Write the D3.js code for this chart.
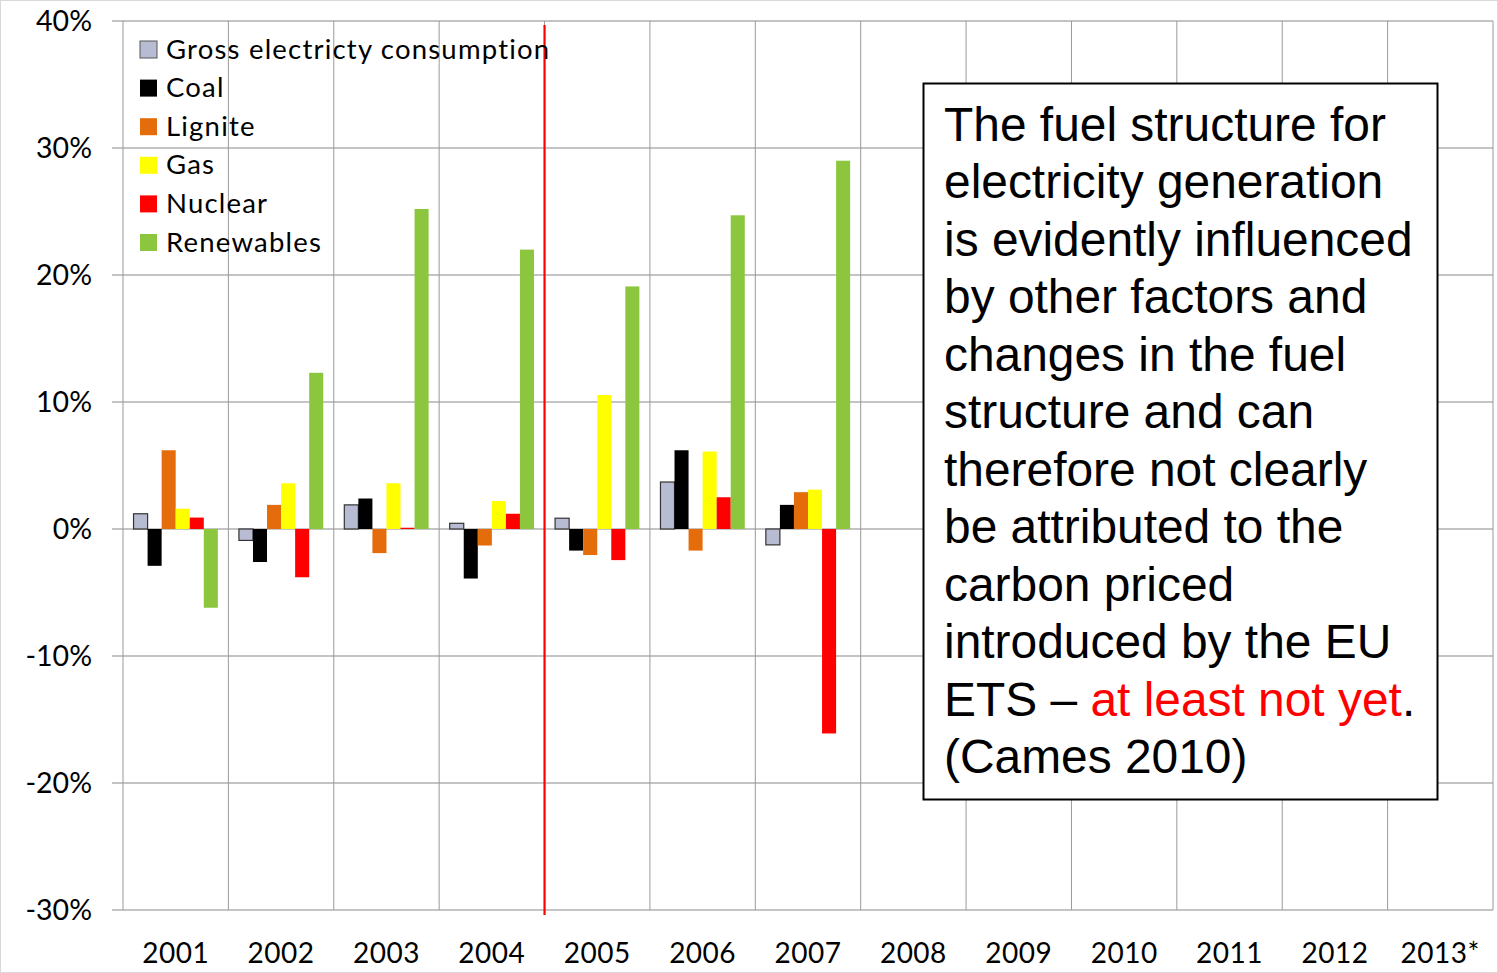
<!DOCTYPE html>
<html>
<head>
<meta charset="utf-8">
<script src="https://cdn.jsdelivr.net/npm/d3@7"></script>
<style>
  body { margin: 0; background: #fff; }
  svg { display: block; }
</style>
</head>
<body>
<svg id="chart" width="1498" height="973"></svg>
<script>
// years on the x axis (data only up to 2007)
const years = ["2001", "2002", "2003", "2004", "2005", "2006", "2007",
  "2008", "2009", "2010", "2011", "2012", "2013*"];
const seriesNames = ["Gross electricty consumption", "Coal", "Lignite", "Gas", "Nuclear", "Renewables"];
const seriesColors = ["#b8bcd2", "#000000", "#e46c0a", "#ffff00", "#ff0000", "#8cc63f"];

// change in % per year, 2001..2007
const gross      = [1.2, -0.9, 1.9, 0.45, 0.85, 3.7, -1.25];
const coal       = [-2.9, -2.6, 2.4, -3.9, -1.7, 6.2, 1.9];
const lignite    = [6.2, 1.9, -1.9, -1.3, -2.05, -1.7, 2.9];
const gas        = [1.6, 3.6, 3.6, 2.2, 10.55, 6.1, 3.1];
const nuclear    = [0.9, -3.8, 0.1, 1.2, -2.45, 2.5, -16.1];
const renewables = [-6.2, 12.3, 25.2, 22.0, 19.1, 24.7, 29.0];
const allSeries = [gross, coal, lignite, gas, nuclear, renewables];

const yTicks = [40, 30, 20, 10, 0, -10, -20, -30];

const noteLines = [
  "The fuel structure for",
  "electricity generation",
  "is evidently influenced",
  "by other factors and",
  "changes in the fuel",
  "structure and can",
  "therefore not clearly",
  "be attributed to the",
  "carbon priced",
  "introduced by the EU",
  "ETS – |at least not yet|.",
  "(Cames 2010)"
];

const svg = d3.select("#chart");
const plotLeft = 123, plotRight = 1493, plotTop = 21, plotBottom = 910;

const x = d3.scaleBand().domain(years).range([plotLeft, plotRight]).paddingInner(0).paddingOuter(0);
const inner = d3.scaleBand().domain(d3.range(seriesNames.length))
  .range([0, x.bandwidth()]).paddingInner(0).paddingOuter(0.75);
const y = d3.scaleLinear().domain([-30, 40]).range([plotBottom, plotTop]);

// light outer frame
svg.append("rect").attr("x", 0.5).attr("y", 0.5).attr("width", 1497).attr("height", 972)
  .attr("fill", "none").attr("stroke", "#d9d9d9");

// horizontal grid
svg.append("g").selectAll("line").data(yTicks).join("line")
  .attr("x1", 112).attr("x2", plotRight)
  .attr("y1", d => y(d)).attr("y2", d => y(d))
  .attr("stroke", "#8a8a8a").attr("stroke-width", 1.2);

// vertical grid at band edges
const edges = years.map(d => x(d)).concat([plotRight]);
svg.append("g").selectAll("line").data(edges).join("line")
  .attr("x1", d => d).attr("x2", d => d)
  .attr("y1", plotTop).attr("y2", plotBottom)
  .attr("stroke", "#9a9a9a").attr("stroke-width", 1);

// y labels
svg.append("g").selectAll("text").data(yTicks).join("text")
  .attr("x", 92).attr("y", d => y(d)).attr("dy", "0.35em")
  .attr("text-anchor", "end")
  .attr("font-family", "Lato, 'Open Sans', sans-serif").attr("font-size", 28.5)
  .text(d => d + "%");

// x labels
svg.append("g").selectAll("text").data(years).join("text")
  .attr("x", d => x(d) + x.bandwidth() / 2).attr("y", 953).attr("dy", "0.35em")
  .attr("text-anchor", "middle")
  .attr("font-family", "Lato, 'Open Sans', sans-serif").attr("font-size", 28)
  .attr("letter-spacing", 0.5)
  .text(d => d);

// bars
const bars = [];
allSeries.forEach((vals, s) => {
  vals.forEach((v, i) => bars.push({ year: years[i], s, v }));
});
svg.append("g").selectAll("rect").data(bars).join("rect")
  .attr("x", d => x(d.year) + inner(d.s))
  .attr("width", inner.bandwidth())
  .attr("y", d => y(Math.max(0, d.v)))
  .attr("height", d => Math.abs(y(d.v) - y(0)))
  .attr("fill", d => seriesColors[d.s])
  .attr("stroke", d => d.s === 0 ? "#333" : "none")
  .attr("stroke-width", 1.2);

// red line marking start of EU ETS
svg.append("line")
  .attr("x1", x("2005")).attr("x2", x("2005"))
  .attr("y1", 25).attr("y2", 915)
  .attr("stroke", "#ff0000").attr("stroke-width", 2.2);

// legend
const legend = svg.append("g").attr("font-family", "Lato, 'Open Sans', sans-serif")
  .attr("font-size", 27.5).attr("letter-spacing", 1.2);
seriesNames.forEach((name, i) => {
  const ly = 49 + i * 38.6;
  legend.append("rect").attr("x", 140).attr("y", ly - 8).attr("width", 17).attr("height", 17)
    .attr("fill", seriesColors[i])
    .attr("stroke", i === 0 ? "#555" : "none");
  legend.append("text").attr("x", 166).attr("y", ly).attr("dy", "0.35em").text(name);
});

// annotation box
svg.append("rect").attr("x", 923.5).attr("y", 83.5).attr("width", 514).attr("height", 716)
  .attr("fill", "#fff").attr("stroke", "#000").attr("stroke-width", 2);
const note = svg.append("g").attr("font-family", "'Liberation Sans', Arial, sans-serif").attr("font-size", 47.9);
noteLines.forEach((line, i) => {
  const t = note.append("text").attr("x", 944).attr("y", 124 + i * 57.5).attr("dy", "0.35em");
  line.split("|").forEach((part, k) => {
    t.append("tspan").attr("fill", k === 1 ? "#ff0000" : "#000").text(part);
  });
});
</script>
</body>
</html>
